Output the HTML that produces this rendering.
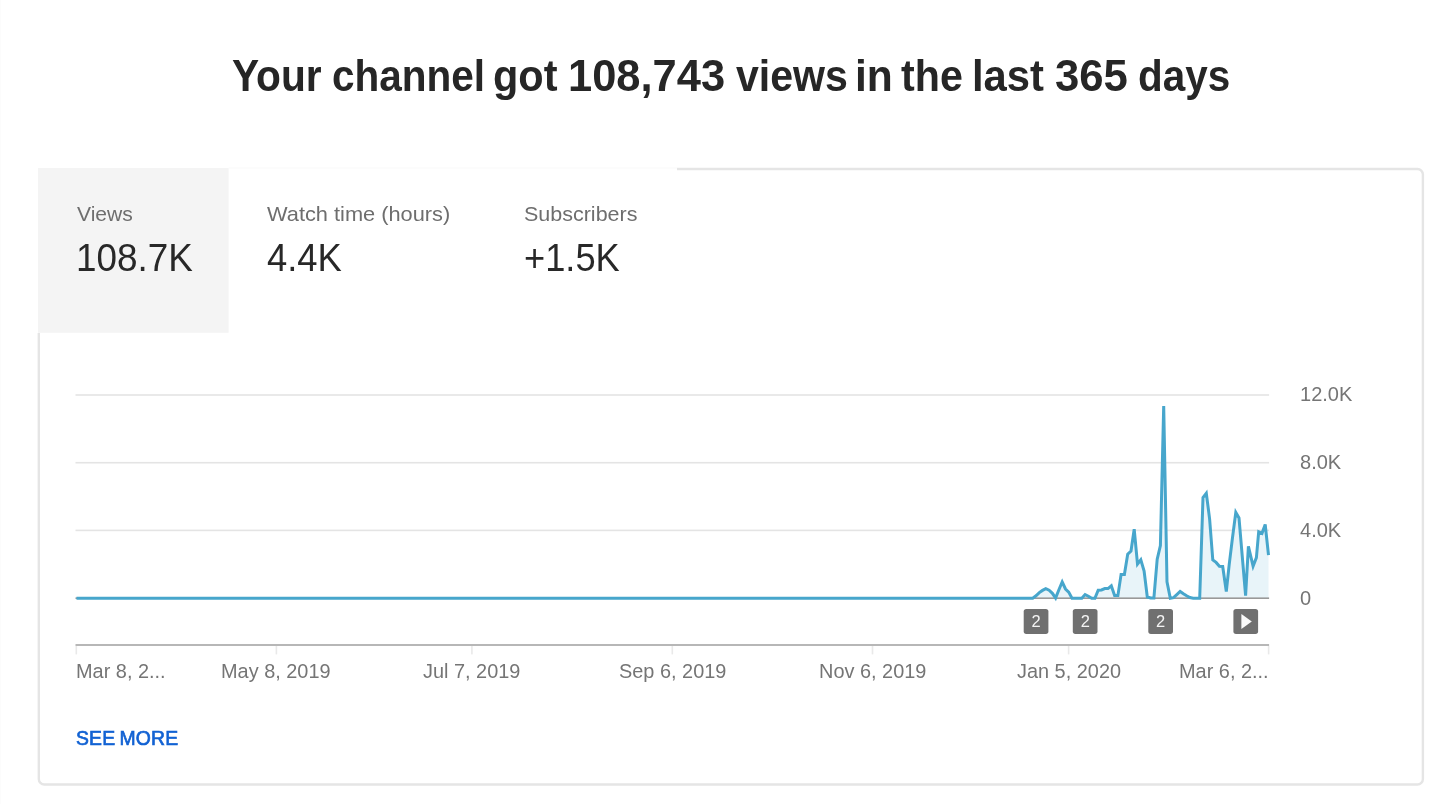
<!DOCTYPE html>
<html lang="en">
<head>
<meta charset="utf-8">
<title>Channel analytics</title>
<style>
html,body{margin:0;padding:0;background:#fff;}
body{width:1448px;height:804px;position:relative;overflow:hidden;font-family:"Liberation Sans",Arial,sans-serif;-webkit-font-smoothing:antialiased;}
.t{position:absolute;white-space:nowrap;line-height:1;transform-origin:0 0;margin:0;padding:0;}
#title{position:absolute;left:0;top:53.8px;width:1448px;height:44px;margin:0;font-size:44px;font-weight:700;color:#262626;line-height:1;white-space:nowrap;}
#title span{position:absolute;top:0;transform-origin:0 0;white-space:nowrap;}
.lbl{font-size:21px;color:#6e6e6e;top:202.6px;}
.val{font-size:38.4px;color:#282828;top:239.2px;}
.xl{font-size:20.5px;color:#757575;top:660.5px;transform:scaleX(.971);}
.yl{font-size:20.5px;color:#757575;left:1299.7px;transform:scaleX(.977);}
#more{left:76.3px;top:727.9px;font-size:20.6px;font-weight:400;color:#1262d3;-webkit-text-stroke:0.7px #1262d3;transform:scaleX(.94);letter-spacing:0.2px;word-spacing:-1.5px;}
#edge{position:absolute;left:0;top:0;width:1px;height:804px;background:#fcfcfc;}
</style>
</head>
<body>
<div id="edge"></div>
<h1 id="title"><span style="left:232.3px;transform:scaleX(0.9249)">Your</span> <span style="left:331.9px;transform:scaleX(0.9209)">channel</span> <span style="left:493.3px;transform:scaleX(0.9424)">got</span> <span style="left:567.9px;transform:scaleX(0.9874)">108,743</span> <span style="left:735.8px;transform:scaleX(0.9332)">views</span> <span style="left:854.7px;transform:scaleX(0.9668)">in</span> <span style="left:901.1px;transform:scaleX(0.9364)">the</span> <span style="left:971.9px;transform:scaleX(0.9494)">last</span> <span style="left:1054.6px;transform:scaleX(0.9924)">365</span> <span style="left:1137.5px;transform:scaleX(0.9189)">days</span></h1>
<svg id="frame" style="position:absolute;left:0;top:0" width="1448" height="804" viewBox="0 0 1448 804">
<rect x="38.8" y="168.95" width="1384.1" height="615.5" rx="5.5" ry="5.5" fill="#fff" stroke="#e5e5e5" stroke-width="2.4"/>
<rect x="37" y="166" width="640" height="167" fill="#fff"/>
<rect x="228.6" y="167.2" width="448.4" height="1.6" fill="#fcfcfc"/>
<rect x="38" y="168" width="190.6" height="164.8" fill="#f4f4f4"/>
</svg>
<span class="t lbl" style="left:77px;transform:scaleX(1.0035)">Views</span>
<span class="t val" style="left:75.5px;transform:scaleX(.96)">108.7K</span>
<span class="t lbl" style="left:267px;transform:scaleX(1.0377)">Watch time (hours)</span>
<span class="t val" style="left:266.5px;transform:scaleX(.948)">4.4K</span>
<span class="t lbl" style="left:524.2px;transform:scaleX(1.0230)">Subscribers</span>
<span class="t val" style="left:524.2px;transform:scaleX(.944)">+1.5K</span>


<svg id="chart" style="position:absolute;left:0;top:0" width="1448" height="804" viewBox="0 0 1448 804">
<g fill="#e4e4e4"><rect x="75.5" y="394.2" width="1193.6" height="1.6"/><rect x="75.5" y="461.9" width="1193.6" height="1.6"/><rect x="75.5" y="529.6" width="1193.6" height="1.6"/></g>
<g fill="#e9e9e9"><rect x="75.5" y="645.8" width="1.6" height="8.6"/><rect x="275.6" y="645.8" width="1.6" height="8.6"/><rect x="471.1" y="645.8" width="1.6" height="8.6"/><rect x="671.5" y="645.8" width="1.6" height="8.6"/><rect x="871.7" y="645.8" width="1.6" height="8.6"/><rect x="1067.8" y="645.8" width="1.6" height="8.6"/><rect x="1267.8" y="645.8" width="1.6" height="8.6"/></g>
<rect x="75.5" y="644.1" width="1193.6" height="1.8" fill="#b0b0b0"/>
<path id="area" fill="#e8f4f9" stroke="none" d="M76.5 598.2 L1032.7 598.2 L1036.0 595.8 L1039.3 592.6 L1042.5 590.4 L1045.8 588.6 L1049.1 590.2 L1052.4 593.3 L1055.6 598.1 L1058.9 589.7 L1062.2 581.9 L1065.5 589.0 L1068.7 592.1 L1072.0 598.3 L1075.3 598.2 L1081.8 598.2 L1085.1 594.6 L1088.4 596.2 L1091.7 598.3 L1094.9 598.3 L1098.2 590.2 L1101.5 590.0 L1104.8 588.6 L1108.0 588.6 L1111.3 585.8 L1114.6 595.6 L1117.9 595.6 L1121.1 574.4 L1124.4 574.4 L1127.7 554.2 L1131.0 551.0 L1134.2 529.2 L1137.5 564.1 L1140.8 559.8 L1144.1 571.0 L1147.3 597.0 L1150.6 598.0 L1153.9 598.0 L1157.2 559.2 L1160.4 545.5 L1163.7 406.0 L1167.0 581.8 L1170.3 598.2 L1173.5 597.6 L1176.8 594.6 L1180.1 591.5 L1183.4 593.8 L1186.6 595.8 L1189.9 597.6 L1193.2 598.2 L1199.7 598.2 L1203.0 497.5 L1206.3 493.2 L1209.6 518.8 L1212.8 560.0 L1216.1 562.4 L1219.4 566.2 L1222.7 566.5 L1226.3 591.5 L1229.2 564.6 L1232.5 537.6 L1235.8 512.4 L1239.0 518.0 L1242.3 556.8 L1245.6 595.6 L1248.4 546.3 L1253.1 566.2 L1256.4 557.6 L1258.7 531.7 L1262.0 533.3 L1265.2 524.5 L1268.5 555.2 L1268.5 598.2 L76.5 598.2 Z"/>
<rect x="75.5" y="597.4" width="1193.6" height="1.6" fill="#999"/>
<path id="line" fill="none" stroke="#47a6cc" stroke-width="3" stroke-linejoin="miter" stroke-miterlimit="4" stroke-linecap="butt" d="M76.5 598.2 L1032.7 598.2 L1036.0 595.8 L1039.3 592.6 L1042.5 590.4 L1045.8 588.6 L1049.1 590.2 L1052.4 593.3 L1055.6 598.1 L1058.9 589.7 L1062.2 581.9 L1065.5 589.0 L1068.7 592.1 L1072.0 598.3 L1075.3 598.2 L1081.8 598.2 L1085.1 594.6 L1088.4 596.2 L1091.7 598.3 L1094.9 598.3 L1098.2 590.2 L1101.5 590.0 L1104.8 588.6 L1108.0 588.6 L1111.3 585.8 L1114.6 595.6 L1117.9 595.6 L1121.1 574.4 L1124.4 574.4 L1127.7 554.2 L1131.0 551.0 L1134.2 529.2 L1137.5 564.1 L1140.8 559.8 L1144.1 571.0 L1147.3 597.0 L1150.6 598.0 L1153.9 598.0 L1157.2 559.2 L1160.4 545.5 L1163.7 406.0 L1167.0 581.8 L1170.3 598.2 L1173.5 597.6 L1176.8 594.6 L1180.1 591.5 L1183.4 593.8 L1186.6 595.8 L1189.9 597.6 L1193.2 598.2 L1199.7 598.2 L1203.0 497.5 L1206.3 493.2 L1209.6 518.8 L1212.8 560.0 L1216.1 562.4 L1219.4 566.2 L1222.7 566.5 L1226.3 591.5 L1229.2 564.6 L1232.5 537.6 L1235.8 512.4 L1239.0 518.0 L1242.3 556.8 L1245.6 595.6 L1248.4 546.3 L1253.1 566.2 L1256.4 557.6 L1258.7 531.7 L1262.0 533.3 L1265.2 524.5 L1268.5 555.2"/>
</svg>

<span class="t yl" style="top:384.4px">12.0K</span>
<span class="t yl" style="top:452.1px">8.0K</span>
<span class="t yl" style="top:519.8px">4.0K</span>
<span class="t yl" style="top:587.5px">0</span>



<svg id="markers" style="position:absolute;left:0;top:0" width="1448" height="804" viewBox="0 0 1448 804" font-family="'Liberation Sans',Arial,sans-serif" font-size="16.5" fill="#f4f4f4" text-anchor="middle">
<g fill="#707070"><rect x="1023.7" y="609" width="24.7" height="24.9" rx="2.6"/><rect x="1072.8" y="609" width="24.7" height="24.9" rx="2.6"/><rect x="1148.3" y="609" width="24.7" height="24.9" rx="2.6"/><rect x="1233.4" y="609" width="24.7" height="24.9" rx="2.6"/></g>
<text x="1036.2" y="627.3">2</text>
<text x="1085.3" y="627.3">2</text>
<text x="1160.7" y="627.3">2</text>
<path d="M1241.4 613.9 L1251.8 621.4 L1241.4 628.9 Z" fill="#fafafa"/>
</svg>
<span class="t xl" id="x0" style="left:76.2px">Mar 8, 2...</span>
<span class="t xl" id="x1" style="left:221.4px">May 8, 2019</span>
<span class="t xl" id="x2" style="left:423px">Jul 7, 2019</span>
<span class="t xl" id="x3" style="left:619.2px">Sep 6, 2019</span>
<span class="t xl" id="x4" style="left:818.6px">Nov 6, 2019</span>
<span class="t xl" id="x5" style="left:1017px">Jan 5, 2020</span>
<span class="t xl" id="x6" style="left:1179.4px">Mar 6, 2...</span>

<span class="t" id="more">SEE MORE</span>
</body>
</html>
